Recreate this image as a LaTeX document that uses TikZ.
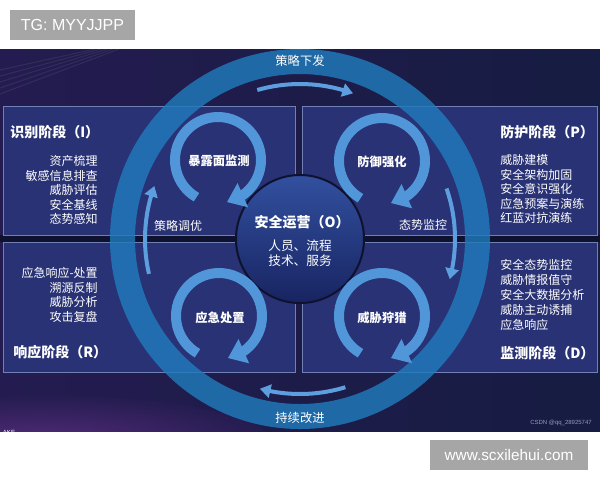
\documentclass[tikz,border=0pt]{standalone}
\usepackage{fontspec}
\setmainfont{Noto Sans CJK SC}
\newfontfamily\lsans{Liberation Sans}
\usetikzlibrary{arrows.meta,bending,calc}
\definecolor{panelL}{RGB}{36,28,80}
\definecolor{panelR}{RGB}{22,28,66}
\definecolor{gapc}{RGB}{14,18,46}
\definecolor{boxfill}{RGB}{40,50,116}
\definecolor{boxline}{RGB}{112,128,180}
\definecolor{ringc}{RGB}{32,122,188}
\definecolor{cycc}{RGB}{82,150,218}
\definecolor{midc}{RGB}{92,158,222}
\definecolor{ctop}{RGB}{50,80,160}
\definecolor{cbot}{RGB}{24,36,96}
\definecolor{tagc}{RGB}{166,166,166}
\definecolor{glowc}{RGB}{80,42,118}
\begin{document}
\begin{tikzpicture}[x=0.75pt,y=-0.75pt,
  box/.style={draw=boxline,line width=0.7pt,fill=boxfill},
  item/.style={text=white,inner sep=0pt,font=\fontsize{9}{11}\selectfont},
  ttl/.style={text=white,inner sep=0pt,font=\fontsize{10.5}{12}\selectfont\bfseries},
  cyclbl/.style={text=white,inner sep=0pt,font=\fontsize{9.2}{11}\selectfont\bfseries},
  lbl/.style={text=white,inner sep=0pt,font=\fontsize{9.2}{11}\selectfont},
  cyc/.style={draw=cycc,line width=7.5pt,-{Triangle[width=19pt,length=13pt]}},
  midarc/.style={draw=midc,line width=3pt,-{Triangle[width=10pt,length=8pt]}},
  tag/.style={fill=tagc,text=white,inner sep=0pt,font=\lsans\fontsize{12}{14}\selectfont}]
\useasboundingbox (0,0) rectangle (600,480);
\fill[white] (0,0) rectangle (600,480);
% panel
\coordinate (pTL) at (0,49);
\coordinate (pBR) at (600,431);
\shade[left color=panelL,right color=panelR] (pTL) rectangle (pBR);
\begin{scope}
\clip (pTL) rectangle (pBR);
\shade[inner color=glowc,outer color=panelL] (40,440) ellipse[x radius=230,y radius=45];
\foreach \d in {0,6,12,18,24}
  \draw[white,opacity=0.07,line width=0.8pt] (0,70+\d) -- (95+\d,49);
% gap strip
\fill[gapc] (0,235) rectangle (600,242);
% boxes
\draw[box] (3,106) rectangle (295,235);
\draw[box] (302,106) rectangle (597,235);
\draw[box] (3,242) rectangle (295,372);
\draw[box] (302,242) rectangle (597,372);
% big ring
\coordinate (O) at (300,239);
\fill[ringc,opacity=0.82,even odd rule] (O) circle[radius=190] (O) circle[radius=165];
% centre circle
\draw[draw=gapc,line width=1.5pt,top color=ctop,bottom color=cbot] (O) circle[radius=64];
\node[text=white,inner sep=0pt,font=\lsans\fontsize{4.5}{5}\selectfont] (ake) at (9,432) {AKE};
\end{scope}
% ring labels
\node[lbl] (sl1) at (300,61) {策略下发};
\node[lbl] (sl2) at (300,418) {持续改进};
\node[lbl,font=\fontsize{9}{11}\selectfont] (sl3) at (178,226) {策略调优};
\node[lbl,font=\fontsize{9}{11}\selectfont] (sl4) at (423,225) {态势监控};
% medium arcs
\draw[midarc] ($(O)+(-106:155)$) arc[start angle=-106,end angle=-70,radius=155];
\draw[midarc] ($(O)+(-19:155)$) arc[start angle=-19,end angle=15,radius=155];
\draw[midarc] ($(O)+(73:155)$) arc[start angle=73,end angle=105,radius=155];
\draw[midarc] ($(O)+(-193:155)$) arc[start angle=-193,end angle=-160,radius=155];
% cyclic arrows
\coordinate (cTL) at (218,160);
\coordinate (cTR) at (382,161);
\coordinate (cBL) at (219,316);
\coordinate (cBR) at (382,316);
\foreach \c in {cTL,cTR,cBL,cBR}
  \draw[cyc] ($(\c)+(-240:43)$) arc[start angle=-240,end angle=78,radius=43];
\node[cyclbl] (q1) at (219,161) {暴露面监测};
\node[cyclbl] (q2) at (382,162) {防御强化};
\node[cyclbl] (q3) at (220,318) {应急处置};
\node[cyclbl] (q4) at (382,318) {威胁狩猎};
% centre text
\node[ttl] (ct) at (302,222) {安全运营（O）};
\node[item,font=\fontsize{9.5}{11}\selectfont] (c1) at (300,246) {人员、流程};
\node[item,font=\fontsize{9.5}{11}\selectfont] (c2) at (300,261) {技术、服务};
% titles
\node[ttl,anchor=west] (t1) at (10,132) {识别阶段（I）};
\node[ttl,anchor=west] (t2) at (500,132) {防护阶段（P）};
\node[ttl,anchor=west] (t3) at (13,352) {响应阶段（R）};
\node[ttl,anchor=west] (t4) at (500,353) {监测阶段（D）};
% items
\foreach \t [count=\i] in {资产梳理,敏感信息排查,威胁评估,安全基线,态势感知}
  \node[item,anchor=east] (a\i) at (98,146.5+14.5*\i) {\t};
\foreach \t [count=\i] in {威胁建模,安全架构加固,安全意识强化,应急预案与演练,红蓝对抗演练}
  \node[item,anchor=west] (b\i) at (500,145.5+14.5*\i) {\t};
\foreach \t [count=\i] in {应急响应-处置,溯源反制,威胁分析,攻击复盘}
  \node[item,anchor=east] (r\i) at (98,258.5+14.5*\i) {\t};
\foreach \t [count=\i] in {安全态势监控,威胁情报值守,安全大数据分析,威胁主动诱捕,应急响应}
  \node[item,anchor=west] (d\i) at (500,250+15*\i) {\t};
\node[text={rgb,255:red,150;green,156;blue,185},inner sep=0pt,font=\lsans\fontsize{4.5}{5}\selectfont] (csdn) at (561,423) {CSDN @qq\_28925747};
% tags
\node[tag,minimum width=93.75pt,minimum height=22.5pt] (tg) at (72.5,25) {TG: MYYJJPP};
\node[tag,minimum width=118.5pt,minimum height=22.5pt,font=\lsans\fontsize{11.5}{14}\selectfont] (www) at (509,455) {www.scxilehui.com};
\end{tikzpicture}
\end{document}
